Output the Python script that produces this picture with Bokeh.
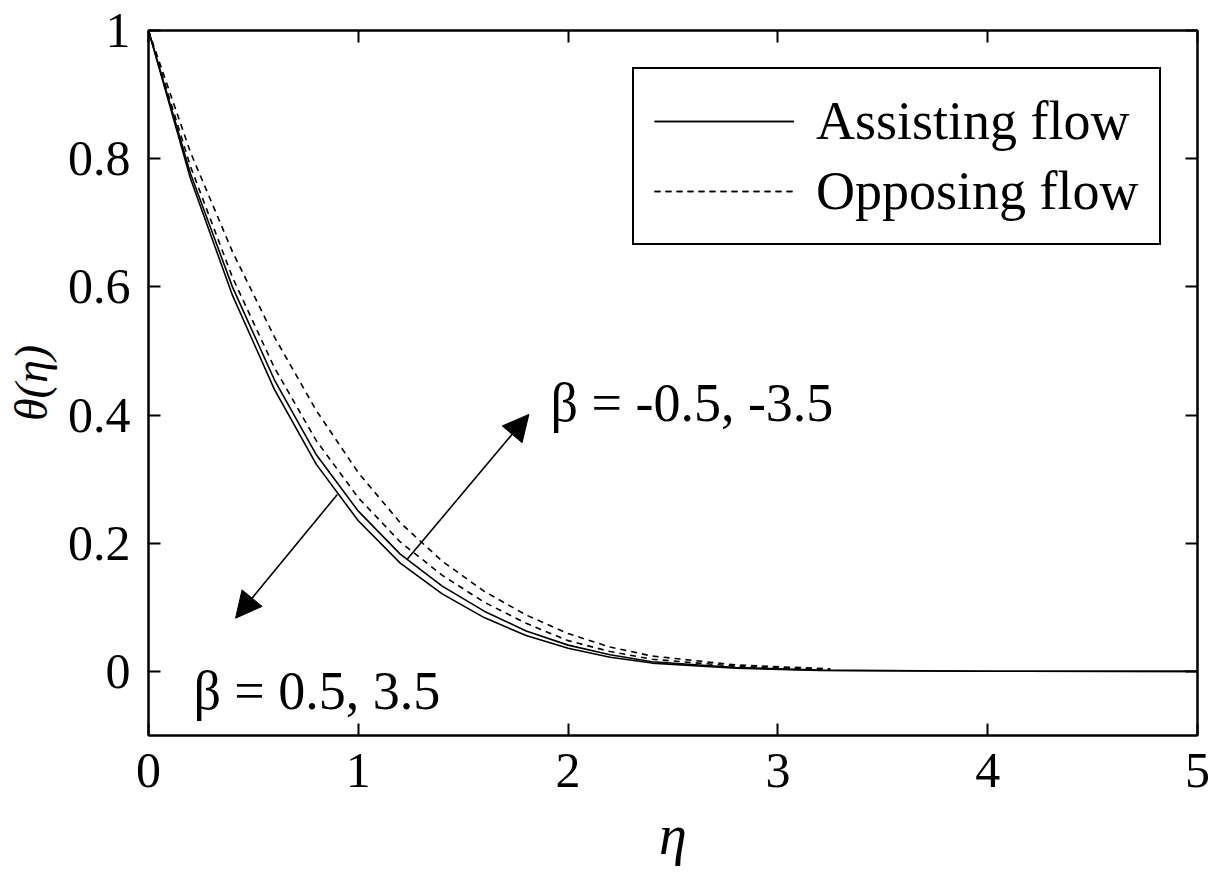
from bokeh.plotting import figure
from bokeh.models import (Range1d, FixedTicker, LinearAxis, Legend, LegendItem,
                          Arrow, NormalHead, Label)
from bokeh.embed import file_html
from bokeh.resources import INLINE

# ---- data ----
eta_solid = [0, 0.2, 0.4, 0.6, 0.8, 1.0, 1.2, 1.4, 1.6, 1.8, 2.0, 2.2, 2.4, 2.8, 3.2, 4.0, 5.0]
eta_dashed = [0, 0.2, 0.4, 0.6, 0.8, 1.0, 1.2, 1.4, 1.6, 1.8, 2.0, 2.2, 2.4, 2.8, 3.25]

theta_assist_b35 = [1, 0.769, 0.587, 0.440, 0.323, 0.235, 0.169, 0.121, 0.084, 0.056, 0.036, 0.022, 0.013, 0.005, 0.0015, 0.0002, 0]
theta_assist_b05 = [1, 0.777, 0.600, 0.455, 0.338, 0.250, 0.183, 0.133, 0.094, 0.063, 0.041, 0.026, 0.015, 0.006, 0.002, 0.0003, 0]
theta_oppose_b05 = [1, 0.788, 0.615, 0.474, 0.360, 0.271, 0.202, 0.150, 0.108, 0.075, 0.048, 0.031, 0.019, 0.008, 0.003]
theta_oppose_b35 = [1, 0.810, 0.655, 0.522, 0.407, 0.310, 0.232, 0.172, 0.125, 0.088, 0.059, 0.038, 0.024, 0.010, 0.004]

x_ticks = [0, 1, 2, 3, 4, 5]
y_ticks = [0, 0.2, 0.4, 0.6, 0.8, 1]
y_tick_labels = ["0", "0.2", "0.4", "0.6", "0.8", "1"]
legend_labels = ["Assisting flow", "Opposing flow"]
annot_up = "β = -0.5, -3.5"
annot_down = "β = 0.5, 3.5"

FONT = "Liberation Serif"

p = figure(width=1215, height=885, output_backend="svg", toolbar_location=None,
           x_range=Range1d(0, 5), y_range=Range1d(-0.1, 1.0),
           min_border_left=148, min_border_right=18, min_border_top=30, min_border_bottom=150)
p.grid.visible = False
p.outline_line_color = "black"
p.outline_line_width = 2
p.outline_line_alpha = 1
p.background_fill_color = "white"
p.border_fill_color = "white"

def style_axis(ax, labels=True):
    ax.axis_line_color = "black"
    ax.axis_line_width = 2
    ax.major_tick_in = 12
    ax.major_tick_out = 0
    ax.minor_tick_line_color = None
    ax.major_tick_line_color = "black"
    ax.major_tick_line_width = 2
    ax.major_label_text_font = FONT
    ax.major_label_text_font_size = "50px" if labels else "0px"
    ax.major_label_text_color = "black"

xa = p.xaxis[0]
ya = p.yaxis[0]
xa.ticker = FixedTicker(ticks=x_ticks)
ya.ticker = FixedTicker(ticks=y_ticks)
ya.major_label_overrides = {t: l for t, l in zip(y_ticks, y_tick_labels)}
style_axis(xa)
style_axis(ya)
xa.major_label_standoff = 18
ya.major_label_standoff = 18

xa.axis_label = "η"
xa.axis_label_text_font = FONT
xa.axis_label_text_font_style = "italic"
xa.axis_label_text_font_size = "56px"
xa.axis_label_standoff = 14
xa.axis_label_text_color = "black"

ya.axis_label = "θ(η)"
ya.axis_label_text_font = FONT
ya.axis_label_text_font_style = "italic"
ya.axis_label_text_font_size = "46px"
ya.axis_label_standoff = 8
ya.axis_label_text_color = "black"

top_ax = LinearAxis(ticker=FixedTicker(ticks=x_ticks))
right_ax = LinearAxis(ticker=FixedTicker(ticks=y_ticks))
for ax, tks in ((top_ax, x_ticks), (right_ax, y_ticks)):
    style_axis(ax, labels=False)
    ax.major_label_overrides = {t: "" for t in tks}
    ax.major_label_standoff = 0
p.add_layout(top_ax, "above")
p.add_layout(right_ax, "right")

r1 = p.line(eta_solid, theta_assist_b35, line_color="black", line_width=1.6)
r2 = p.line(eta_solid, theta_assist_b05, line_color="black", line_width=1.6)
r3 = p.line(eta_dashed, theta_oppose_b05, line_color="black", line_width=1.6, line_dash="6 5")
r4 = p.line(eta_dashed, theta_oppose_b35, line_color="black", line_width=1.6, line_dash="6 5")

legend = Legend(items=[LegendItem(label=legend_labels[0], renderers=[r1, r2]),
                       LegendItem(label=legend_labels[1], renderers=[r3, r4])],
                location=(484, 490))
legend.label_text_font = FONT
legend.label_text_font_size = "54px"
legend.label_text_color = "black"
legend.glyph_width = 140
legend.glyph_height = 64
legend.label_height = 64
legend.label_standoff = 22
legend.spacing = 6
legend.padding = 20
legend.margin = 0
legend.border_line_color = "black"
legend.border_line_width = 2
legend.border_line_alpha = 1
legend.background_fill_alpha = 1
p.add_layout(legend)

p.add_layout(Arrow(end=NormalHead(size=26, fill_color="black", line_color="black"),
                   x_start=0.90, y_start=0.276, x_end=0.415, y_end=0.083,
                   line_color="black", line_width=1.6))
p.add_layout(Arrow(end=NormalHead(size=26, fill_color="black", line_color="black"),
                   x_start=1.233, y_start=0.175, x_end=1.813, y_end=0.401,
                   line_color="black", line_width=1.6))

p.add_layout(Label(x=1.916, y=0.419, text=annot_up, text_font=FONT,
                   text_font_size="54px", text_color="black", text_baseline="alphabetic"))
p.add_layout(Label(x=0.214, y=-0.031, text=annot_down, text_font=FONT,
                   text_font_size="54px", text_color="black", text_baseline="alphabetic"))

open("out.html", "w").write(file_html(p, INLINE))
